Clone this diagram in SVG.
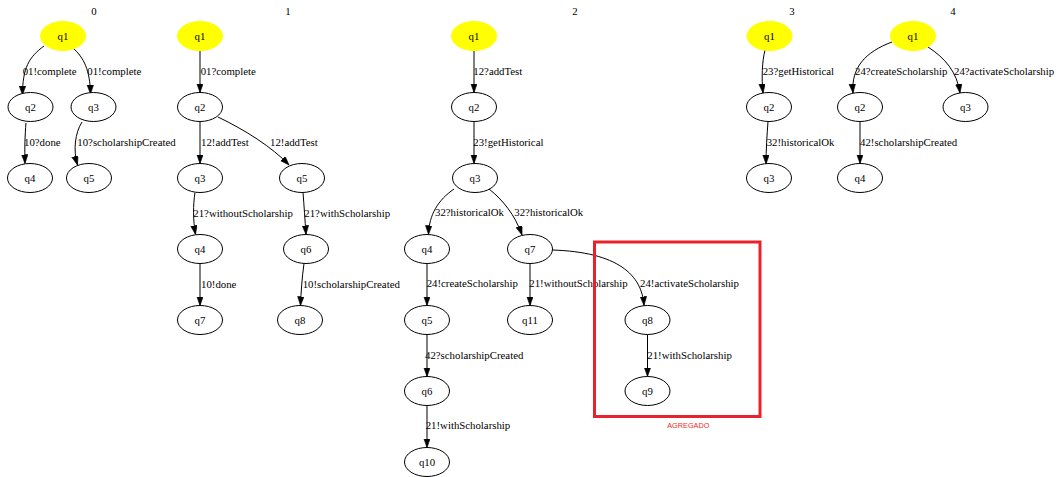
<svg xmlns="http://www.w3.org/2000/svg" width="1060" height="477" viewBox="0 0 1060 477">
  <style>
    text { font-family: "Liberation Serif", "Times New Roman", serif; font-size: 10.8px; fill: #000; }
    .title, .node text { text-anchor: middle; }
    .node ellipse { fill: #fff; stroke: #000; stroke-width: 1; }
    .node.init ellipse { fill: #ffff00; stroke: #ffff00; }
    .edges path { fill: none; stroke: #000; stroke-width: 1; marker-end: url(#arrow); }
    .mark { fill: none; stroke: #e8212b; stroke-width: 3; }
    .mark-label { font-family: "Liberation Sans", Arial, sans-serif; font-size: 7.3px; fill: #ee2a2a; text-anchor: middle; }
  </style>
  <defs>
    <marker id="arrow" markerUnits="userSpaceOnUse" markerWidth="10" markerHeight="8" refX="9" refY="3.2" orient="auto">
      <path d="M0,0 L9,3.2 L0,6.4 Z" fill="#000" stroke="#000" stroke-width="0.6"/>
    </marker>
  </defs>
  <rect width="1060" height="477" fill="#fff"/>

  <!-- graph titles -->
  <text class="title" x="94" y="15">0</text>
  <text class="title" x="288" y="15">1</text>
  <text class="title" x="575" y="15">2</text>
  <text class="title" x="792" y="15">3</text>
  <text class="title" x="953" y="15">4</text>

  <!-- connectors -->
  <g id="connectors" class="edges">
    <!-- graph 0 -->
    <path d="M44,46 C29,57 22.5,68 22.5,95"/>
    <path d="M73,48 C84,58 90,70 90.5,94"/>
    <path d="M26,123 C25,135 24.5,148 25,163.5"/>
    <path d="M82,122 C75,133 73,150 77.5,165"/>
    <!-- graph 1 -->
    <path d="M200,50.5 L200,92.5"/>
    <path d="M200,121.5 L200,163.5"/>
    <path d="M218,117 C245,130 272,147 289,165"/>
    <path d="M195,192.5 C193,205 193,220 195.5,234.5"/>
    <path d="M303,192.5 C304,205 305,220 306,234.5"/>
    <path d="M200,263.5 L200,305.5"/>
    <path d="M304,263.5 C302,278 301,292 300.5,305.5"/>
    <!-- graph 2 -->
    <path d="M474,50.5 L474,92.5"/>
    <path d="M474,121.5 L474,163.5"/>
    <path d="M454,189 C438,200 429,215 428.5,234.5"/>
    <path d="M489,189 C503,200 515,215 522,235"/>
    <path d="M427,263.5 L427,305.5"/>
    <path d="M530,263.5 L530,305.5"/>
    <path d="M552,250 C618,252 642,275 644,305.5"/>
    <path d="M427,334.5 L427,376.5"/>
    <path d="M647.5,334.5 L647.5,376.5"/>
    <path d="M427,405.5 L427,447.5"/>
    <!-- graph 3 -->
    <path d="M765,50 C762,62 761.5,78 763,93"/>
    <path d="M768,121.5 C767,135 766,150 766,164"/>
    <!-- graph 4 -->
    <path d="M892,42 C865,52 851,68 853,93"/>
    <path d="M928,47 C945,58 957,72 960,93"/>
    <path d="M860,121.5 L860,163.5"/>
  </g>

  <!-- connector labels -->
  <g id="connector-labels">
    <text x="22.7" y="74.5">01!complete</text>
    <text x="87.3" y="74.5">01!complete</text>
    <text x="24" y="146">10?done</text>
    <text x="77.3" y="146">10?scholarshipCreated</text>

    <text x="200.7" y="74.5">01?complete</text>
    <text x="201" y="145.5">12!addTest</text>
    <text x="270" y="145.5">12!addTest</text>
    <text x="193.3" y="216.8">21?withoutScholarship</text>
    <text x="304.3" y="216.8">21?withScholarship</text>
    <text x="201" y="287.5">10!done</text>
    <text x="302.7" y="287.5">10!scholarshipCreated</text>

    <text x="473.3" y="74.5">12?addTest</text>
    <text x="473.3" y="145.5">23!getHistorical</text>
    <text x="435" y="216">32?historicalOk</text>
    <text x="514.3" y="216">32?historicalOk</text>
    <text x="426.7" y="287">24!createScholarship</text>
    <text x="529.3" y="287">21!withoutScholarship</text>
    <text x="640" y="287">24!activateScholarship</text>
    <text x="425" y="358.5">42?scholarshipCreated</text>
    <text x="647.3" y="358.5">21!withScholarship</text>
    <text x="425.7" y="428.5">21!withScholarship</text>

    <text x="762.7" y="74.5">23?getHistorical</text>
    <text x="766.7" y="145.5">32!historicalOk</text>

    <text x="855" y="74.5">24?createScholarship</text>
    <text x="954" y="74.5">24?activateScholarship</text>
    <text x="860" y="145.5">42!scholarshipCreated</text>
  </g>

  <!-- graph 0 nodes -->
  <g id="g0-q1" class="node init"><ellipse cx="63" cy="36" rx="22.5" ry="14.5"/><text x="63" y="39.5">q1</text></g>
  <g id="g0-q2" class="node"><ellipse cx="30.5" cy="107" rx="22.5" ry="14.5"/><text x="30.5" y="110.5">q2</text></g>
  <g id="g0-q3" class="node"><ellipse cx="93.5" cy="107" rx="22.5" ry="14.5"/><text x="93.5" y="110.5">q3</text></g>
  <g id="g0-q4" class="node"><ellipse cx="30" cy="178" rx="22.5" ry="14.5"/><text x="30" y="181.5">q4</text></g>
  <g id="g0-q5" class="node"><ellipse cx="89" cy="178" rx="22.5" ry="14.5"/><text x="89" y="181.5">q5</text></g>

  <!-- graph 1 nodes -->
  <g id="g1-q1" class="node init"><ellipse cx="200" cy="36" rx="22.5" ry="14.5"/><text x="200" y="39.5">q1</text></g>
  <g id="g1-q2" class="node"><ellipse cx="200" cy="107" rx="22.5" ry="14.5"/><text x="200" y="110.5">q2</text></g>
  <g id="g1-q3" class="node"><ellipse cx="200" cy="178" rx="22.5" ry="14.5"/><text x="200" y="181.5">q3</text></g>
  <g id="g1-q5" class="node"><ellipse cx="302" cy="178" rx="22.5" ry="14.5"/><text x="302" y="181.5">q5</text></g>
  <g id="g1-q4" class="node"><ellipse cx="200" cy="249" rx="22.5" ry="14.5"/><text x="200" y="252.5">q4</text></g>
  <g id="g1-q6" class="node"><ellipse cx="306" cy="249" rx="22.5" ry="14.5"/><text x="306" y="252.5">q6</text></g>
  <g id="g1-q7" class="node"><ellipse cx="200" cy="320" rx="22.5" ry="14.5"/><text x="200" y="323.5">q7</text></g>
  <g id="g1-q8" class="node"><ellipse cx="300" cy="320" rx="22.5" ry="14.5"/><text x="300" y="323.5">q8</text></g>

  <!-- graph 2 nodes -->
  <g id="g2-q1" class="node init"><ellipse cx="474" cy="36" rx="22.5" ry="14.5"/><text x="474" y="39.5">q1</text></g>
  <g id="g2-q2" class="node"><ellipse cx="474" cy="107" rx="22.5" ry="14.5"/><text x="474" y="110.5">q2</text></g>
  <g id="g2-q3" class="node"><ellipse cx="475" cy="178" rx="22.5" ry="14.5"/><text x="475" y="181.5">q3</text></g>
  <g id="g2-q4" class="node"><ellipse cx="427" cy="249" rx="22.5" ry="14.5"/><text x="427" y="252.5">q4</text></g>
  <g id="g2-q7" class="node"><ellipse cx="530" cy="249" rx="22.5" ry="14.5"/><text x="530" y="252.5">q7</text></g>
  <g id="g2-q5" class="node"><ellipse cx="427" cy="320" rx="22.5" ry="14.5"/><text x="427" y="323.5">q5</text></g>
  <g id="g2-q11" class="node"><ellipse cx="530" cy="320" rx="22.5" ry="14.5"/><text x="530" y="323.5">q11</text></g>
  <g id="g2-q8" class="node"><ellipse cx="647.5" cy="320" rx="22.5" ry="14.5"/><text x="647.5" y="323.5">q8</text></g>
  <g id="g2-q6" class="node"><ellipse cx="427" cy="391" rx="22.5" ry="14.5"/><text x="427" y="394.5">q6</text></g>
  <g id="g2-q9" class="node"><ellipse cx="647.5" cy="391" rx="22.5" ry="14.5"/><text x="647.5" y="394.5">q9</text></g>
  <g id="g2-q10" class="node"><ellipse cx="427" cy="462" rx="22.5" ry="14.5"/><text x="427" y="465.5">q10</text></g>

  <!-- graph 3 nodes -->
  <g id="g3-q1" class="node init"><ellipse cx="769.5" cy="36" rx="22.5" ry="14.5"/><text x="769.5" y="39.5">q1</text></g>
  <g id="g3-q2" class="node"><ellipse cx="769" cy="107" rx="22.5" ry="14.5"/><text x="769" y="110.5">q2</text></g>
  <g id="g3-q3" class="node"><ellipse cx="769" cy="178" rx="22.5" ry="14.5"/><text x="769" y="181.5">q3</text></g>

  <!-- graph 4 nodes -->
  <g id="g4-q1" class="node init"><ellipse cx="913" cy="36" rx="22.5" ry="14.5"/><text x="913" y="39.5">q1</text></g>
  <g id="g4-q2" class="node"><ellipse cx="860" cy="107" rx="22.5" ry="14.5"/><text x="860" y="110.5">q2</text></g>
  <g id="g4-q3" class="node"><ellipse cx="965.5" cy="107" rx="22.5" ry="14.5"/><text x="965.5" y="110.5">q3</text></g>
  <g id="g4-q4" class="node"><ellipse cx="860" cy="178" rx="22.5" ry="14.5"/><text x="860" y="181.5">q4</text></g>

  <!-- highlight frame around the added branch -->
  <g id="added-frame">
    <rect class="mark" x="594.5" y="242" width="165.5" height="174.5"/>
    <text class="mark-label" x="688.3" y="428.3">AGREGADO</text>
  </g>
</svg>
